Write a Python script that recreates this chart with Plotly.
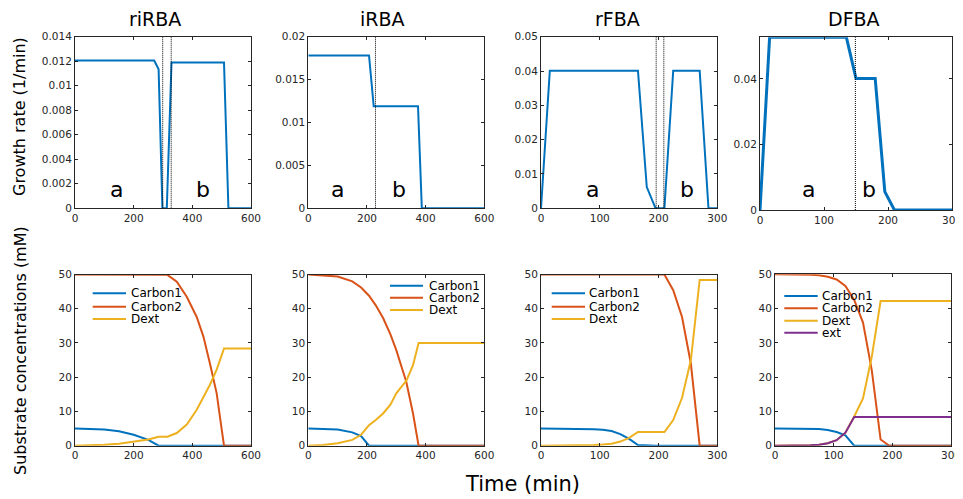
import plotly.graph_objects as go

# target picture size and page offset (default HTML body margin)
W, H = 963, 499
OFF = 8
FW, FH = W - OFF, H - OFF

# ---------------- data ----------------
titles = ["riRBA", "iRBA", "rFBA", "DFBA"]
species = ["Carbon1", "Carbon2", "Dext", "ext"]
colors = {"Carbon1": "#0072BD", "Carbon2": "#D95319", "Dext": "#EDB120", "ext": "#7E2F8E"}

# growth rates (top row)
t_riRBA_g = [0, 270, 285, 298, 313, 329, 508, 523, 600]
g_riRBA = [0.01206, 0.01206, 0.01135, 0, 0, 0.0119, 0.0119, 0, 0]
t_iRBA_g = [0, 207, 223, 374, 387, 600]
g_iRBA = [0.01782, 0.01782, 0.01189, 0.01189, 0, 0]
t_rFBA_g = [0, 15, 165, 180, 195, 210, 225, 270, 285, 300]
g_rFBA = [0, 0.0401, 0.0401, 0.0062, 0, 0, 0.0401, 0.0401, 0, 0]
t_DFBA_g = [0, 15, 135, 150, 180, 195, 210, 300]
g_DFBA = [0, 0.0527, 0.0527, 0.0401, 0.0401, 0.0056, 0, 0]

# phase switch times (dotted lines)
switch_riRBA = [299, 328]
switch_iRBA = [229]
switch_rFBA = [196, 209]
switch_DFBA = [149]

# phase labels (a, b) x positions
ab_riRBA = [142, 435]
ab_iRBA = [100, 308]
ab_rFBA = [88, 248]
ab_DFBA = [75, 170]

# substrate concentrations (bottom row)
t_riRBA_s = [0, 50, 100, 150, 200, 250, 285, 315, 347, 381, 415, 438, 460, 483, 494, 508, 600]
c1_riRBA = [5, 4.9, 4.7, 4.2, 3.2, 1.7, 0, 0, 0, 0, 0, 0, 0, 0, 0, 0, 0]
c2_riRBA = [50, 50, 50, 50, 50, 50, 50, 49.9, 47.9, 43.5, 37.6, 31.8, 24, 15.3, 8.5, 0, 0]
dx_riRBA = [0, 0.1, 0.3, 0.6, 1.1, 1.8, 2.6, 2.6, 3.7, 6.2, 10.5, 14.3, 17.8, 22.2, 25, 28.4, 28.4]

t_iRBA_s = [0, 50, 100, 150, 180, 207, 230, 255, 280, 300, 320, 334, 357, 376, 600]
c1_iRBA = [5, 4.9, 4.7, 3.9, 2.8, 0, 0, 0, 0, 0, 0, 0, 0, 0, 0]
c2_iRBA = [50, 49.8, 49.4, 48, 46.2, 43.8, 41, 37.3, 32.5, 27.9, 22.5, 18.7, 9.4, 0, 0]
dx_iRBA = [0, 0.2, 0.7, 1.7, 3.2, 6, 7.5, 9.4, 12, 15.3, 17.5, 18.9, 23.5, 30, 30]

t_rFBA_s = [0, 15, 30, 45, 60, 75, 90, 105, 120, 135, 150, 165, 180, 195, 210, 225, 240, 255, 270, 285, 300]
c1_rFBA = [5, 5, 4.98, 4.95, 4.92, 4.88, 4.8, 4.65, 4.3, 3.4, 2.0, 0.2, 0, 0, 0, 0, 0, 0, 0, 0, 0]
c2_rFBA = [50, 50, 50, 50, 50, 50, 50, 50, 50, 50, 50, 50, 50, 50, 50, 45.4, 37.6, 24, 0, 0, 0]
dx_rFBA = [0, 0, 0, 0.02, 0.05, 0.1, 0.2, 0.35, 0.6, 1.2, 2.3, 4, 4, 4, 4, 7.5, 14, 25, 48.4, 48.4, 48.4]

t_DFBA_s = [0, 15, 30, 45, 60, 75, 90, 105, 120, 135, 150, 165, 180, 195, 210, 225, 240, 255, 270, 285, 300]
c1_DFBA = [5, 5, 4.99, 4.97, 4.93, 4.85, 4.55, 4.0, 3.0, 0, 0, 0, 0, 0, 0, 0, 0, 0, 0, 0, 0]
c2_DFBA = [50, 50, 49.98, 49.95, 49.9, 49.7, 49.3, 48.5, 46.6, 42.5, 35.9, 22, 1.8, 0, 0, 0, 0, 0, 0, 0, 0]
dx_DFBA = [0, 0, 0.02, 0.06, 0.15, 0.3, 0.7, 1.6, 3.8, 8.5, 13.8, 26, 42.2, 42.2, 42.2, 42.2, 42.2, 42.2, 42.2, 42.2, 42.2]
ex_DFBA = [0, 0, 0.02, 0.06, 0.15, 0.3, 0.7, 1.6, 3.8, 8.4, 8.4, 8.4, 8.4, 8.4, 8.4, 8.4, 8.4, 8.4, 8.4, 8.4, 8.4]

# tick values / labels
x_ticks_600 = [0, 200, 400, 600]
x_ticks_300 = [0, 100, 200, 300]
y_ticks_riRBA = [0, 0.002, 0.004, 0.006, 0.008, 0.01, 0.012, 0.014]
y_text_riRBA = ["0", "0.002", "0.004", "0.006", "0.008", "0.01", "0.012", "0.014"]
y_ticks_iRBA = [0, 0.005, 0.01, 0.015, 0.02]
y_text_iRBA = ["0", "0.005", "0.01", "0.015", "0.02"]
y_ticks_rFBA = [0, 0.01, 0.02, 0.03, 0.04, 0.05]
y_text_rFBA = ["0", "0.01", "0.02", "0.03", "0.04", "0.05"]
y_ticks_DFBA = [0, 0.02, 0.04]
y_text_DFBA = ["0", "0.02", "0.04"]
y_ticks_conc = [0, 10, 20, 30, 40, 50]

# ---------------- layout helpers ----------------
def fx(p):
    return (p - OFF) / FW

def fy(p):
    return 1 - (p - OFF) / FH

FONT = "DejaVu Sans"
AX = "#262626"

# pixel boxes: (left, right, top, bottom)
boxes = [
    (75, 251, 36.7, 208.3), (308.3, 484.3, 36.7, 208.3), (541, 717.3, 36.7, 208.3), (760, 952, 37.3, 210),
    (75, 251, 274.5, 445.7), (308.3, 484.3, 274.5, 445.7), (541, 717.3, 274.5, 445.7), (775, 951, 274.3, 445.7),
]
xranges = [[0, 600], [0, 600], [0, 300], [0, 300], [0, 600], [0, 600], [0, 300], [0, 300]]
yranges = [[0, 0.014], [0, 0.02], [0, 0.05], [0, 0.0527], [0, 50], [0, 50], [0, 50], [0, 50]]
xt = [x_ticks_600, x_ticks_600, x_ticks_300, x_ticks_300, x_ticks_600, x_ticks_600, x_ticks_300, x_ticks_300]
yt = [(y_ticks_riRBA, y_text_riRBA), (y_ticks_iRBA, y_text_iRBA), (y_ticks_rFBA, y_text_rFBA),
      (y_ticks_DFBA, y_text_DFBA)] + [(y_ticks_conc, [str(v) for v in y_ticks_conc])] * 4

fig = go.Figure()
layout = dict(
    template="none",
    width=FW, height=FH, margin=dict(l=0, r=0, t=0, b=0, pad=0), autosize=False,
    paper_bgcolor="white", plot_bgcolor="white", showlegend=False,
    font=dict(family=FONT, color=AX),
)
for i in range(8):
    n = "" if i == 0 else str(i + 1)
    l, r, t, b = boxes[i]
    common = dict(showline=True, linecolor=AX, linewidth=1, mirror="ticks", ticks="inside",
                  ticklen=3, tickcolor=AX, tickwidth=1, showgrid=False, zeroline=False, automargin=False,
                  tickfont=dict(family=FONT, size=10.5, color=AX))
    layout["xaxis" + n] = dict(domain=[fx(l), fx(r)], anchor="y" + n, range=xranges[i],
                               tickvals=xt[i], ticktext=[str(v) for v in xt[i]], **common)
    layout["yaxis" + n] = dict(domain=[fy(b), fy(t)], anchor="x" + n, range=yranges[i],
                               tickvals=yt[i][0], ticktext=yt[i][1], **common)
fig.update_layout(**layout)

# growth traces
growth = [(t_riRBA_g, g_riRBA, 2), (t_iRBA_g, g_iRBA, 2), (t_rFBA_g, g_rFBA, 2), (t_DFBA_g, g_DFBA, 3)]
for i, (tt, gg, w) in enumerate(growth):
    n = "" if i == 0 else str(i + 1)
    fig.add_trace(go.Scatter(x=tt, y=gg, mode="lines", line=dict(color=colors["Carbon1"], width=w),
                             xaxis="x" + n, yaxis="y" + n))

# concentration traces
conc = [
    (t_riRBA_s, [c1_riRBA, c2_riRBA, dx_riRBA]),
    (t_iRBA_s, [c1_iRBA, c2_iRBA, dx_iRBA]),
    (t_rFBA_s, [c1_rFBA, c2_rFBA, dx_rFBA]),
    (t_DFBA_s, [c1_DFBA, c2_DFBA, dx_DFBA, ex_DFBA]),
]
for k, (tt, series) in enumerate(conc):
    n = str(k + 5)
    for j, s in enumerate(series):
        fig.add_trace(go.Scatter(x=tt, y=s, mode="lines", name=species[j],
                                 line=dict(color=colors[species[j]], width=2),
                                 xaxis="x" + n, yaxis="y" + n))

# dotted switch lines and a/b labels
shapes = []
annotations = []
switches = [switch_riRBA, switch_iRBA, switch_rFBA, switch_DFBA]
abs_ = [ab_riRBA, ab_iRBA, ab_rFBA, ab_DFBA]
for i in range(4):
    n = "" if i == 0 else str(i + 1)
    for v in switches[i]:
        shapes.append(dict(type="line", xref="x" + n, yref="y" + n + " domain", x0=v, x1=v, y0=0, y1=1,
                           line=dict(color="black", width=1, dash="1px,1px")))
    l, r, t, b = boxes[i]
    yd = (b - 189) / (b - t)
    for lab, xv in zip(["a", "b"], abs_[i]):
        annotations.append(dict(text=lab, xref="x" + n, yref="y" + n + " domain", x=xv, y=yd,
                                showarrow=False, xanchor="center", yanchor="middle",
                                font=dict(family=FONT, size=22, color="black")))

# titles
title_x = [154.7, 382.8, 617.3, 853.7]
for tx, tl in zip(title_x, titles):
    annotations.append(dict(text=tl, xref="paper", yref="paper", x=fx(tx), y=fy(19), showarrow=False,
                            xanchor="center", yanchor="middle", font=dict(family=FONT, size=19, color="black")))

# axis labels
annotations.append(dict(text="Growth rate (1/min)", xref="paper", yref="paper", x=fx(20), y=fy(117),
                        showarrow=False, textangle=-90, xanchor="center", yanchor="middle",
                        font=dict(family=FONT, size=16, color="black")))
annotations.append(dict(text="Substrate concentrations (mM)", xref="paper", yref="paper", x=fx(20), y=fy(351),
                        showarrow=False, textangle=-90, xanchor="center", yanchor="middle",
                        font=dict(family=FONT, size=16, color="black")))
annotations.append(dict(text="Time (min)", xref="paper", yref="paper", x=fx(522), y=fy(484),
                        showarrow=False, xanchor="center", yanchor="middle",
                        font=dict(family=FONT, size=21, color="black")))

# legends (line sample + label) per bottom panel
legends = [
    (92.7, 126, 129, [293.3, 306.7, 319], 3),
    (390, 423, 426.7, [285.7, 297.7, 310], 3),
    (551.7, 585, 587.3, [293.3, 306.7, 319], 3),
    (784.3, 817.7, 820, [296, 308.3, 320.7, 332.7], 4),
]
for x0, x1, xt_, rows, cnt in legends:
    for j in range(cnt):
        sp = species[j]
        shapes.append(dict(type="line", xref="paper", yref="paper", x0=fx(x0), x1=fx(x1),
                           y0=fy(rows[j]), y1=fy(rows[j]), line=dict(color=colors[sp], width=2)))
        annotations.append(dict(text=sp, xref="paper", yref="paper", x=fx(xt_), y=fy(rows[j]),
                                showarrow=False, xanchor="left", yanchor="middle", height=12,
                                font=dict(family=FONT, size=12, color="black")))

fig.update_layout(shapes=shapes, annotations=annotations)
fig.write_html("out.html")
